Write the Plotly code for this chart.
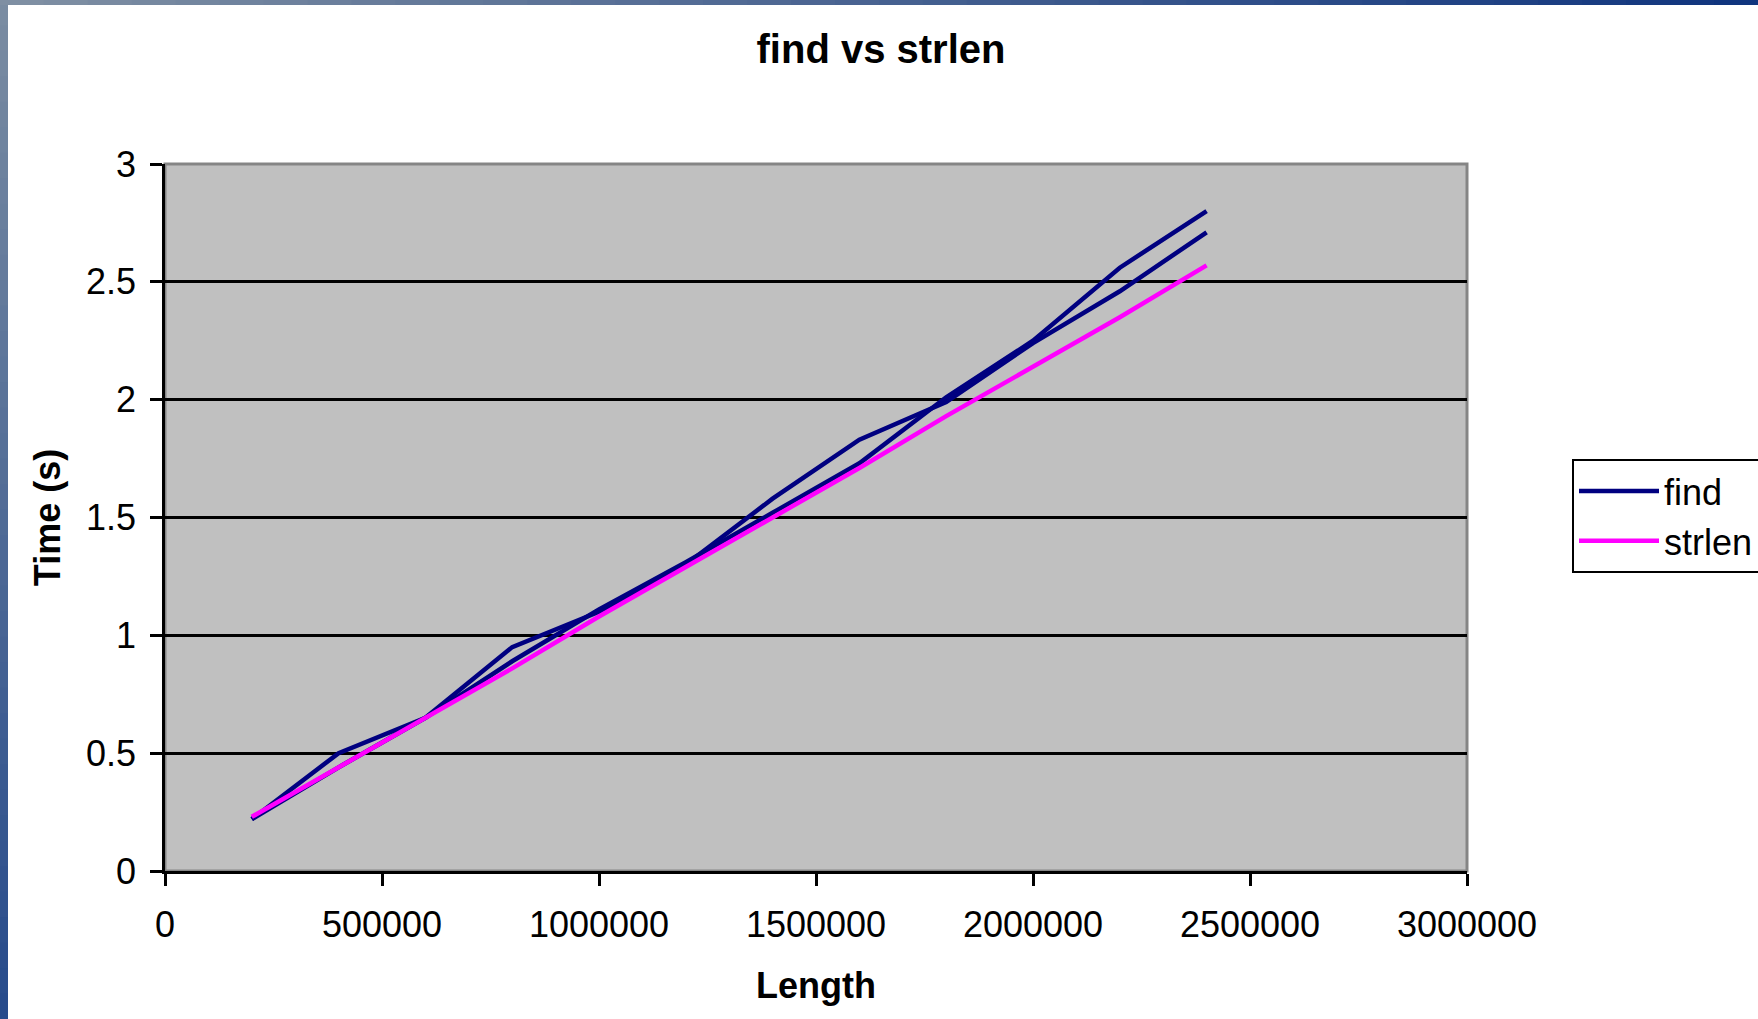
import plotly.graph_objects as go

# ---- data ----
length = [200000, 400000, 600000, 800000, 1000000, 1200000,
          1400000, 1600000, 1800000, 2000000, 2200000, 2400000]
find_run1 = [0.22, 0.44, 0.65, 0.89, 1.11, 1.31, 1.52, 1.73, 2.01, 2.25, 2.56, 2.80]
find_run2 = [0.22, 0.50, 0.65, 0.95, 1.10, 1.30, 1.58, 1.83, 1.99, 2.24, 2.46, 2.71]
strlen_time = [0.23, 0.44, 0.65, 0.86, 1.08, 1.29, 1.50, 1.71, 1.93, 2.14, 2.35, 2.57]

x_ticks = [0, 500000, 1000000, 1500000, 2000000, 2500000, 3000000]
x_tick_text = ["0", "500000", "1000000", "1500000", "2000000", "2500000", "3000000"]
y_ticks = [0, 0.5, 1, 1.5, 2, 2.5, 3]
y_tick_text = ["0", "0.5", "1", "1.5", "2", "2.5", "3"]

# ---- page geometry ----
W, H = 1758, 1019
ML, MR, MT, MB = 165, 291, 164, 148
PW, PH = W - ML - MR, H - MT - MB


def px_x(px):
    return (px - ML) / PW


def px_y(py):
    return (H - MB - py) / PH


FONT = "Arial, 'Liberation Sans', sans-serif"
NAVY = "#000080"
MAGENTA = "#FF00FF"
LW = 4.5

fig = go.Figure()
fig.add_trace(go.Scatter(x=length, y=find_run1, mode="lines", name="find",
                         legendgroup="find", showlegend=True,
                         line=dict(color=NAVY, width=LW)))
fig.add_trace(go.Scatter(x=length, y=find_run2, mode="lines", name="find",
                         legendgroup="find", showlegend=False,
                         line=dict(color=NAVY, width=LW)))
fig.add_trace(go.Scatter(x=length, y=strlen_time, mode="lines", name="strlen",
                         legendgroup="strlen",
                         line=dict(color=MAGENTA, width=LW)))


def mix(c0, c1, t):
    return "#%02x%02x%02x" % tuple(round(a + (b - a) * t) for a, b in zip(c0, c1))


shapes = []
# slide frame: gradient strips along the left and top edges
N = 40
left_top, left_bot = (0x7b, 0x8d, 0xa2), (0x26, 0x4a, 0x8b)
top_left, top_right = (0x80, 0x90, 0xa3), (0x0f, 0x34, 0x7e)
for i in range(N):
    t = (i + 0.5) / N
    shapes.append(dict(type="rect", xref="paper", yref="paper", layer="below",
                       x0=px_x(0), x1=px_x(8),
                       y0=px_y(H * i / N), y1=px_y(H * (i + 1) / N + 2),
                       fillcolor=mix(left_top, left_bot, t), line=dict(width=0)))
    shapes.append(dict(type="rect", xref="paper", yref="paper", layer="below",
                       x0=px_x(W * i / N), x1=px_x(W * (i + 1) / N + 2),
                       y0=px_y(0), y1=px_y(5),
                       fillcolor=mix(top_left, top_right, t), line=dict(width=0)))
# plot-area frame
shapes.append(dict(type="rect", xref="paper", yref="paper", layer="between",
                   x0=0, x1=1, y0=0, y1=1,
                   line=dict(color="#858585", width=3)))

fig.update_layout(
    width=W, height=H,
    margin=dict(l=ML, r=MR, t=MT, b=MB, autoexpand=False),
    paper_bgcolor="white",
    plot_bgcolor="#C0C0C0",
    font=dict(family=FONT, color="black", size=36),
    title=dict(text="<b>find vs strlen</b>", x=881 / W, xanchor="center",
               y=1 - 49 / H, yanchor="middle", yref="container",
               font=dict(size=40, family=FONT, color="black")),
    showlegend=True,
    legend=dict(x=px_x(1572), y=px_y(459), xanchor="left", yanchor="top",
                bgcolor="white", bordercolor="black", borderwidth=2,
                font=dict(size=36, family=FONT, color="black"),
                itemwidth=80, tracegroupgap=15, traceorder="normal"),
    shapes=shapes,
)

fig.update_xaxes(range=[0, 3000000], tickvals=x_ticks, ticktext=x_tick_text,
                 showgrid=False, zeroline=False,
                 showline=True, linecolor="black", linewidth=2.5,
                 ticks="outside", ticklen=12, tickwidth=2.5, tickcolor="black",
                 ticklabelstandoff=8,
                 tickfont=dict(size=36, family=FONT, color="black"),
                 title=dict(text="<b>Length</b>", standoff=29,
                            font=dict(size=36, family=FONT, color="black")))
fig.update_yaxes(range=[0, 3], tickvals=y_ticks, ticktext=y_tick_text,
                 showgrid=True, gridcolor="black", gridwidth=2.5, zeroline=False,
                 showline=True, linecolor="black", linewidth=2.5,
                 ticks="outside", ticklen=12, tickwidth=2.5, tickcolor="black",
                 ticklabelstandoff=7,
                 tickfont=dict(size=36, family=FONT, color="black"),
                 title=dict(text="<b>Time (s)</b>", standoff=15,
                            font=dict(size=36, family=FONT, color="black")))

fig.write_html("out.html")
